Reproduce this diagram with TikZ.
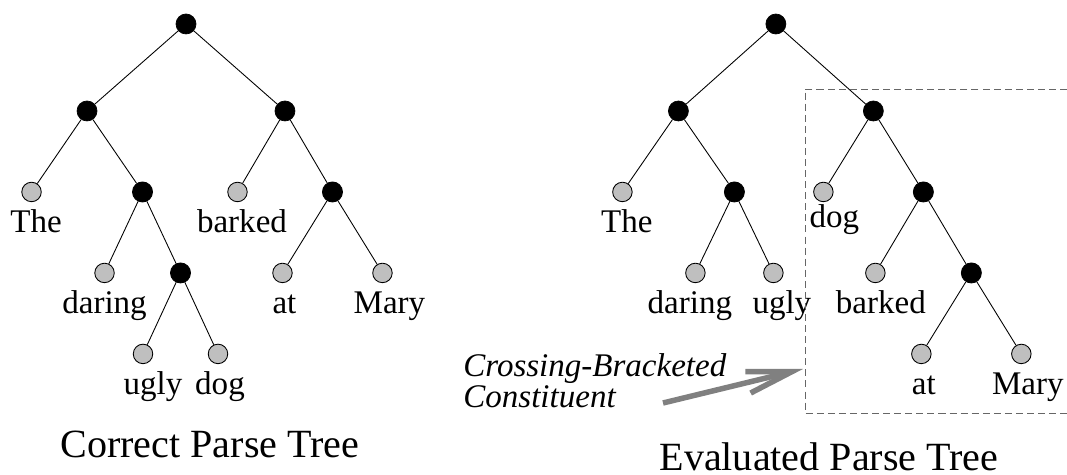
\documentclass[tikz,border=0pt]{standalone}
\usepackage{fontspec}
\setmainfont{Liberation Serif}
\usetikzlibrary{arrows.meta}

\def\treeXSep{11.8cm}
\tikzset{
  tree/.style={
    level/.style={level distance=1.62cm},
    level 1/.style={level distance=1.74cm},
    edge from parent/.style={draw,line width=0.5pt}
  },
  phrase/.style={circle,draw,fill=black,minimum size=0.4cm,inner sep=0pt},
  leaf/.style={circle,draw,fill=black!25,line width=0.5pt,minimum size=0.39cm,inner sep=0pt},
  word/.style={font=\fontsize{18.8}{20}\selectfont,inner sep=0pt,
    text height=0.46cm,text depth=0.14cm,label distance=0.14cm},
  tok/.style 2 args={label={[word,xshift=#2*0.02cm]below:#1}},
  treetitle/.style={font=\fontsize{22.8}{24}\selectfont,anchor=base,inner sep=0pt,text depth=0pt},
  note/.style={font=\itshape\fontsize{18.8}{18.2}\selectfont,align=left,
    anchor=base west,inner sep=0pt},
  boxframe/.style={draw=black!60,line width=0.5pt,dash pattern=on 4pt off 2.3pt},
  pointer/.style={draw=black!50,line width=0.11cm,
    -{Straight Barb[length=0.9cm,width=0.44cm]}}
}

\begin{document}
\begin{tikzpicture}[x=0.02cm,y=-0.02cm]
  \useasboundingbox (0,0) rectangle (1067,475);

  % correct tree
  \begin{scope}[tree]
    \node[phrase] (lroot) at (186,24) {} [sibling distance=3.96cm]
      child {node[phrase] (ln1) {} [sibling distance=2.22cm]
        child {node[leaf,tok={The}{4.5}] (lthe) {}}
        child {node[phrase] (ln2) {} [sibling distance=1.52cm]
          child {node[leaf,tok={daring}{0}] (ldaring) {}}
          child {node[phrase] (ln3) {} [sibling distance=1.5cm]
            child {node[leaf,tok={ugly}{10}] (lugly) {}}
            child {node[leaf,tok={dog}{2}] (ldog) {}}
          }
        }
      }
      child {node[phrase] (ln4) {} [sibling distance=1.9cm]
        child {node[leaf,tok={barked}{4.5}] (lbarked) {}}
        child {node[phrase] (ln5) {} [sibling distance=2cm]
          child {node[leaf,tok={at}{2}] (lat) {}}
          child {node[leaf,tok={Mary}{7}] (lmary) {}}
        }
      };
  \end{scope}

  % evaluated tree
  \begin{scope}[tree,xshift=\treeXSep]
    \node[phrase] (rroot) at (186,24) {} [sibling distance=3.9cm]
      child {node[phrase] (rn1) {} [sibling distance=2.24cm]
        child {node[leaf,tok={The}{4.5}] (rthe) {}}
        child {node[phrase] (rn2) {} [sibling distance=1.56cm]
          child {node[leaf,tok={daring}{-5.5}] (rdaring) {}}
          child {node[leaf,tok={ugly}{8.5}] (rugly) {}}
        }
      }
      child {node[phrase] (rn3) {} [sibling distance=2cm]
        child {node[leaf,label={[word,xshift=11*0.02cm,yshift=0.1cm]below:dog}] (rdog) {}}
        child {node[phrase] (rn4) {} [sibling distance=1.92cm]
          child {node[leaf,tok={barked}{5.5}] (rbarked) {}}
          child {node[phrase] (rn5) {} [sibling distance=2cm]
            child {node[leaf,tok={at}{2.5}] (rat) {}}
            child {node[leaf,tok={Mary}{6.5}] (rmary) {}}
          }
        }
      };
  \end{scope}

  \node[treetitle] (ltitle) at (210,458) {Correct Parse Tree};
  \node[treetitle] (rtitle) at (829,471) {Evaluated Parse Tree};

  % crossing constituent
  \draw[boxframe] (1067,89) -| (805,413) -- (1067,413);
  \node[note] (cross) at (463,408) {Crossing-Bracketed\\Constituent};
  \coordinate (tail) at (663,403);
  \coordinate (tip) at (803,369);
  \draw[pointer] (tail) -- (tip);
\end{tikzpicture}
\end{document}
